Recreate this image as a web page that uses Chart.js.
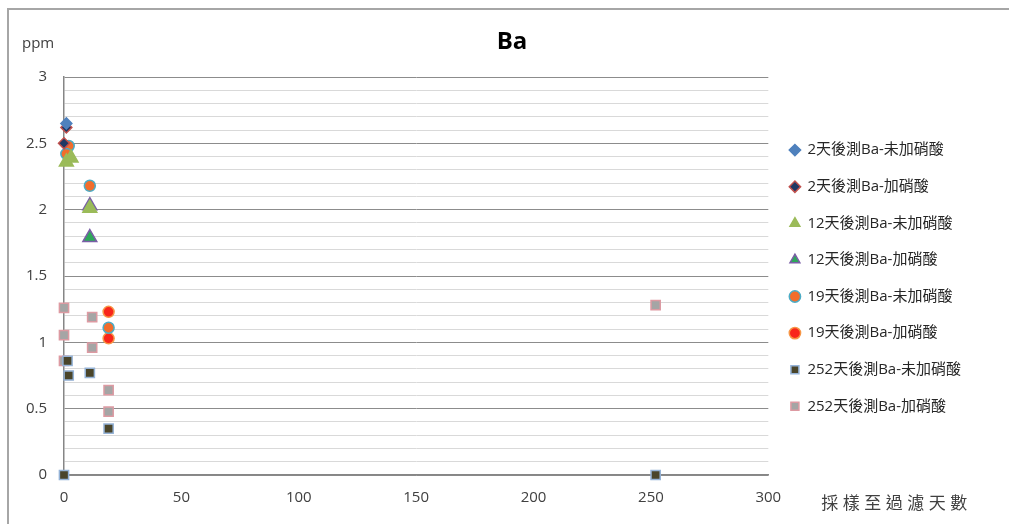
<!DOCTYPE html>
<html>
<head>
<meta charset="utf-8">
<script src="https://cdn.jsdelivr.net/npm/chart.js@4.4.1/dist/chart.umd.min.js"></script>
<style>
  html, body { margin: 0; padding: 0; background: #ffffff; }
  #wrap { position: relative; width: 1009px; height: 524px; overflow: hidden; }
  #frame { position: absolute; left: 7px; top: 8px; width: 1100px; height: 600px;
           border-left: 2px solid #a6a6a6; border-top: 2px solid #a6a6a6; }
  canvas { position: absolute; left: 0; top: 0; }
</style>
</head>
<body>
<div id="wrap">
  <div id="frame"></div>
  <canvas id="c" width="1009" height="524"></canvas>
</div>
<script>
// Ba concentration (ppm) against days from sampling to filtering
const chartTitle = 'Ba';
const yUnit = 'ppm';
const xTitle = '採樣至過濾天數';

const seriesNames = [
  '2天後測Ba-未加硝酸',
  '2天後測Ba-加硝酸',
  '12天後測Ba-未加硝酸',
  '12天後測Ba-加硝酸',
  '19天後測Ba-未加硝酸',
  '19天後測Ba-加硝酸',
  '252天後測Ba-未加硝酸',
  '252天後測Ba-加硝酸'
];

// x = days from sampling to filtering, y = Ba (ppm)
const ba2dNoAcidX = [1];
const ba2dNoAcidY = [2.65];
const ba2dAcidX = [1, 0];
const ba2dAcidY = [2.62, 2.50];
const ba12dNoAcidX = [1, 3, 11];
const ba12dNoAcidY = [2.36, 2.39, 2.01];
const ba12dAcidX = [11, 11];
const ba12dAcidY = [2.03, 1.79];
const ba19dNoAcidX = [2, 1, 11, 19];
const ba19dNoAcidY = [2.48, 2.42, 2.18, 1.11];
const ba19dAcidX = [19, 19];
const ba19dAcidY = [1.23, 1.03];
const ba252dNoAcidX = [0, 1.5, 2, 11, 19, 252];
const ba252dNoAcidY = [0, 0.86, 0.75, 0.77, 0.35, 0];
const ba252dAcidX = [0, 0, 0, 12, 12, 19, 19, 252];
const ba252dAcidY = [1.26, 1.055, 0.86, 1.19, 0.96, 0.64, 0.477, 1.28];

const yTickLabels = ['0', '0.5', '1', '1.5', '2', '2.5', '3'];
const xTickLabels = ['0', '50', '100', '150', '200', '250', '300'];

const pairs = (xs, ys) => xs.map((x, i) => ({ x: x, y: ys[i] }));

const styles = [
  { pointStyle: 'rectRot',  fill: '#4f81bd', line: '#4f81bd', r: 5.5 },
  { pointStyle: 'rectRot',  fill: '#1f3864', line: '#c0504d', r: 5.5 },
  { pointStyle: 'triangle', fill: '#9bbb59', line: '#9bbb59', r: 8 },
  { pointStyle: 'triangle', fill: '#2ea85a', line: '#7a5ea6', r: 8 },
  { pointStyle: 'circle',   fill: '#f26d2c', line: '#4bacc6', r: 5.5 },
  { pointStyle: 'circle',   fill: '#f8261c', line: '#f79646', r: 5.5 },
  { pointStyle: 'rect',     fill: '#4a452a', line: '#95b3d7', r: 6.5 },
  { pointStyle: 'rect',     fill: '#a5a5a5', line: '#dd9aa2', r: 6.5 }
];

const seriesData = [
  pairs(ba2dNoAcidX, ba2dNoAcidY),
  pairs(ba2dAcidX, ba2dAcidY),
  pairs(ba12dNoAcidX, ba12dNoAcidY),
  pairs(ba12dAcidX, ba12dAcidY),
  pairs(ba19dNoAcidX, ba19dNoAcidY),
  pairs(ba19dAcidX, ba19dAcidY),
  pairs(ba252dNoAcidX, ba252dNoAcidY),
  pairs(ba252dAcidX, ba252dAcidY)
];

const FONT = '"Open Sans", "Noto Sans CJK TC", sans-serif';
const isMajor = v => Math.abs(v * 2 - Math.round(v * 2)) < 1e-6;

// captions: chart title, unit above the y axis, title of the x axis beside it
const captions = {
  id: 'captions',
  afterDraw(chart) {
    const ctx = chart.ctx;
    const area = chart.chartArea;
    ctx.save();
    ctx.textBaseline = 'middle';
    ctx.fillStyle = '#000000';
    ctx.font = 'bold 24px ' + FONT;
    ctx.textAlign = 'center';
    ctx.fillText(chartTitle, 512, 42);
    ctx.fillStyle = '#404040';
    ctx.font = '15px ' + FONT;
    ctx.textAlign = 'left';
    ctx.fillText(yUnit, 22, 44);
    ctx.font = '17px "Noto Sans CJK TC", sans-serif';
    ctx.letterSpacing = '4.5px';
    ctx.fillText(xTitle, area.right + 53, area.bottom + 28);
    ctx.restore();
  }
};

new Chart(document.getElementById('c'), {
  type: 'scatter',
  data: {
    datasets: seriesData.map((d, i) => ({
      label: seriesNames[i],
      data: d,
      clip: false,
      pointStyle: styles[i].pointStyle,
      backgroundColor: styles[i].fill,
      borderColor: styles[i].line,
      pointBorderWidth: 1.5,
      pointRadius: styles[i].r,
      pointHoverRadius: styles[i].r
    }))
  },
  options: {
    responsive: false,
    animation: false,
    layout: { padding: { left: 0, right: 38, top: 77, bottom: 0 } },
    plugins: {
      tooltip: { enabled: false },
      title: { display: false },
      legend: {
        position: 'right',
        align: 'start',
        title: { display: true, text: ' ', padding: { top: 14, bottom: 13.2 }, font: { size: 14 } },
        labels: {
          usePointStyle: true,
          boxWidth: 10,
          boxHeight: 8,
          padding: 21.6,
          color: '#262626',
          font: { family: FONT, size: 15 }
        }
      }
    },
    scales: {
      x: {
        type: 'linear',
        min: 0,
        max: 300,
        afterFit(s) { s.height = 49; },
        ticks: {
          stepSize: 50,
          padding: 14,
          color: '#404040',
          font: { family: FONT, size: 15 },
          callback: (v) => xTickLabels[Math.round(v / 50)] ?? ''
        },
        grid: { display: false, drawTicks: false },
        border: { display: true, color: '#868686', width: 1.5 }
      },
      y: {
        type: 'linear',
        min: 0,
        max: 3,
        afterFit(s) { s.width = 64; },
        ticks: {
          stepSize: 0.1,
          autoSkip: false,
          padding: 17,
          color: '#404040',
          font: { family: FONT, size: 15 },
          callback: (v) => isMajor(v) ? yTickLabels[Math.round(v * 2)] : ''
        },
        grid: {
          drawTicks: false,
          color: (c) => (c.tick && isMajor(c.tick.value)) ? '#8c8c8c' : '#d9d9d9',
          lineWidth: 1
        },
        border: { display: true, color: '#868686', width: 1.5 }
      }
    }
  },
  plugins: [captions]
});
</script>
</body>
</html>
